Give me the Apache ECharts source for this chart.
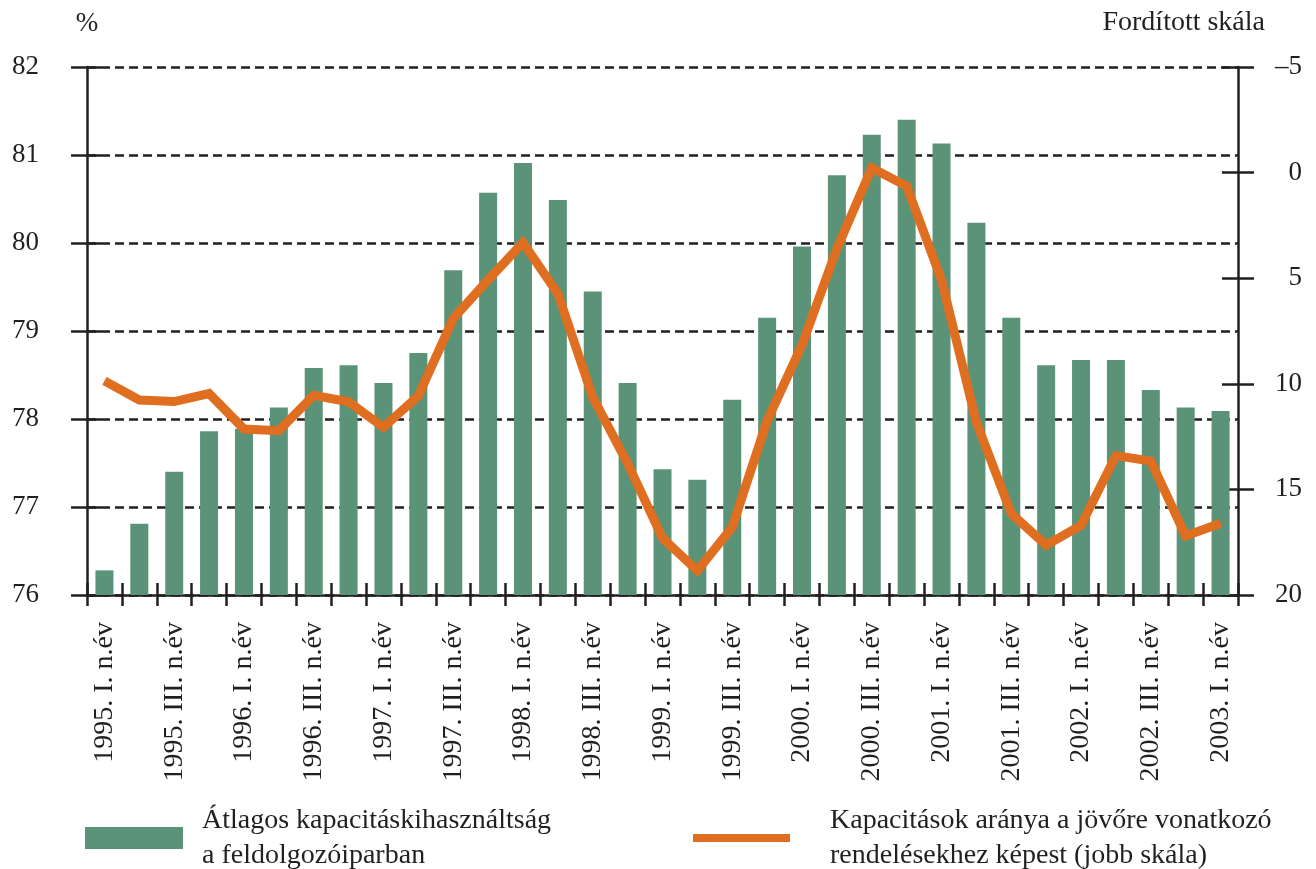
<!DOCTYPE html>
<html>
<head>
<meta charset="utf-8">
<script src="https://cdn.jsdelivr.net/npm/echarts@6/dist/echarts.min.js"></script>
<style>
html,body{margin:0;padding:0;background:#fff;}
#chart{width:1316px;height:869px;}
</style>
</head>
<body>
<div id="chart"></div>
<script>
const categories = [
  '1995. I. n.év','1995. II. n.év','1995. III. n.év','1995. IV. n.év',
  '1996. I. n.év','1996. II. n.év','1996. III. n.év','1996. IV. n.év',
  '1997. I. n.év','1997. II. n.év','1997. III. n.év','1997. IV. n.év',
  '1998. I. n.év','1998. II. n.év','1998. III. n.év','1998. IV. n.év',
  '1999. I. n.év','1999. II. n.év','1999. III. n.év','1999. IV. n.év',
  '2000. I. n.év','2000. II. n.év','2000. III. n.év','2000. IV. n.év',
  '2001. I. n.év','2001. II. n.év','2001. III. n.év','2001. IV. n.év',
  '2002. I. n.év','2002. II. n.év','2002. III. n.év','2002. IV. n.év',
  '2003. I. n.év'
];
const utilization = [
  76.28, 76.81, 77.40, 77.86, 77.89, 78.13, 78.58, 78.61,
  78.41, 78.75, 79.69, 80.57, 80.91, 80.49, 79.45, 78.41,
  77.43, 77.31, 78.22, 79.15, 79.96, 80.77, 81.23, 81.40,
  81.13, 80.23, 79.15, 78.61, 78.67, 78.67, 78.33, 78.13,
  78.09
];
const ordersRatio = [
  9.86, 10.77, 10.84, 10.46, 12.14, 12.22, 10.55, 10.85,
  12.06, 10.57, 6.91, 5.08, 3.32, 5.73, 10.63, 13.77,
  17.3, 18.85, 16.78, 11.75, 8.16, 3.6, -0.22, 0.64,
  5.08, 11.83, 16.15, 17.64, 16.7, 13.4, 13.66, 17.2,
  16.6
];
const leftTicks = {min: 76, max: 82, interval: 1};
const rightTicks = {min: -5, max: 20, interval: 5};
const barName = 'Átlagos kapacitáskihasználtság\na feldolgozóiparban';
const lineName = 'Kapacitások aránya a jövőre vonatkozó\nrendelésekhez képest (jobb skála)';
const leftAxisName = '%';
const rightAxisName = 'Fordított skála';

const FONT = 'Liberation Serif';
const INK = '#231f20';
const GREEN = '#5a9377';
const ORANGE = '#e06e20';

const chart = echarts.init(document.getElementById('chart'), null, {renderer: 'canvas'});

const axisLineStyle = {color: INK, width: 2.5};
const tickStyle = {color: INK, width: 2.5};

const option = {
  backgroundColor: '#fff',
  animation: false,
  textStyle: {fontFamily: FONT, color: INK},
  grid: {left: 87, right: 78, top: 67, bottom: 274, containLabel: false},
  legend: [
    {
      data: [barName], left: 85, top: 803, padding: 0,
      itemWidth: 98, itemHeight: 22, icon: 'rect',
      textStyle: {fontFamily: FONT, fontSize: 28, lineHeight: 35, color: INK, padding: [0,0,0,14]}
    },
    {
      data: [lineName], left: 693, top: 803, padding: 0,
      itemWidth: 97, itemHeight: 8, icon: 'rect',
      textStyle: {fontFamily: FONT, fontSize: 28, lineHeight: 35, color: INK, padding: [0,0,0,35]}
    }
  ],
  xAxis: [
    {
      type: 'category', data: categories, position: 'bottom',
      boundaryGap: true,
      axisLine: {show: true, onZero: false, lineStyle: axisLineStyle},
      axisTick: {show: true, interval: 0, inside: false, length: 11, lineStyle: tickStyle},
      axisLabel: {interval: 1, rotate: 90, margin: 27, fontFamily: FONT, fontSize: 28, color: INK},
      splitLine: {show: false}
    },
    {
      type: 'category', data: categories, position: 'bottom', offset: 0,
      boundaryGap: true,
      axisLine: {show: false, onZero: false},
      axisTick: {show: true, interval: 0, inside: true, length: 12, lineStyle: tickStyle},
      axisLabel: {show: false},
      splitLine: {show: false}
    }
  ],
  yAxis: [
    {
      type: 'value', position: 'left',
      min: leftTicks.min, max: leftTicks.max, interval: leftTicks.interval,
      name: leftAxisName, nameLocation: 'end', nameGap: 30,
      nameTextStyle: {fontFamily: FONT, fontSize: 27, color: INK, align: 'center'},
      axisLine: {show: true, onZero: false, lineStyle: axisLineStyle},
      axisTick: {show: true, inside: false, length: 16, lineStyle: tickStyle},
      axisLabel: {margin: 48, fontFamily: FONT, fontSize: 27, color: INK},
      splitLine: {show: true, lineStyle: {color: INK, width: 2.5, type: [9, 5]}}
    },
    {
      type: 'value', position: 'right', inverse: true,
      min: rightTicks.min, max: rightTicks.max, interval: rightTicks.interval,
      name: rightAxisName, nameLocation: 'start', nameGap: 30,
      nameTextStyle: {fontFamily: FONT, fontSize: 28, color: INK, align: 'right', padding: [0, -27, 0, 0]},
      axisLine: {show: true, onZero: false, lineStyle: axisLineStyle},
      axisTick: {show: true, inside: false, length: 16, lineStyle: tickStyle},
      axisLabel: {
        margin: 64, align: 'right', fontFamily: FONT, fontSize: 27, color: INK,
        formatter: v => (v < 0 ? '\u2013' + Math.abs(v) : String(v))
      },
      splitLine: {show: false}
    },
    {
      type: 'value', position: 'left', offset: 0,
      min: leftTicks.min, max: leftTicks.max, interval: leftTicks.interval,
      axisLine: {show: false, onZero: false},
      axisTick: {show: true, inside: true, length: 14, lineStyle: tickStyle},
      axisLabel: {show: false},
      splitLine: {show: false}
    },
    {
      type: 'value', position: 'right', offset: 0, inverse: true,
      min: rightTicks.min, max: rightTicks.max, interval: rightTicks.interval,
      axisLine: {show: false, onZero: false},
      axisTick: {show: true, inside: true, length: 16, lineStyle: tickStyle},
      axisLabel: {show: false},
      splitLine: {show: false}
    }
  ],
  series: [
    {
      name: barName, type: 'bar', xAxisIndex: 0, yAxisIndex: 0,
      data: utilization, barWidth: 18,
      itemStyle: {color: GREEN}
    },
    {
      name: lineName, type: 'line', xAxisIndex: 0, yAxisIndex: 1,
      data: ordersRatio, showSymbol: false, symbol: 'none',
      lineStyle: {color: ORANGE, width: 9, join: 'miter', cap: 'butt'},
      itemStyle: {color: ORANGE},
      z: 5
    }
  ]
};
chart.setOption(option);
</script>
</body>
</html>
